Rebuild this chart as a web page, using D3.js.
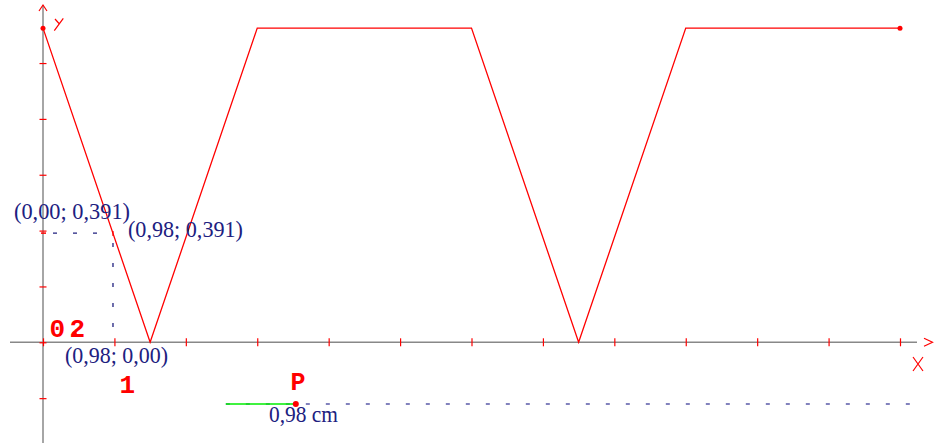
<!DOCTYPE html>
<html>
<head>
<meta charset="utf-8">
<script src="https://cdn.jsdelivr.net/npm/d3@7"></script>
<style>
  body { margin: 0; background: #fff; }
  svg { display: block; }
</style>
</head>
<body>
<svg id="chart" width="938" height="443"></svg>
<script>
// curve data (x in cm units, y value)
const curveX = [0, 1.5, 3, 6, 7.5, 9, 12];
const curveY = [1.125, 0, 1.125, 1.125, 0, 1.125, 1.125];

const xTicks = d3.range(0, 13);
const yTicks = [-0.2, 0, 0.2, 0.4, 0.6, 0.8, 1.0];

// probe point on the curve
const probeX = 0.98;
const probeY = 0.391;
const probeLabels = ["(0,00; 0,391)", "(0,98; 0,391)", "(0,98; 0,00)"];

// slider P
const sliderStart = 2.56;
const sliderLen = 0.98;
const sliderY = -0.221;
const sliderEnd = 12.28;
const sliderLabel = "0,98 cm";

const navy = "#20207f";
const red = "#ff0000";

let svg = d3.select("#chart");

let x = d3.scaleLinear().domain([0, 12]).range([43, 900]);
let y = d3.scaleLinear().domain([0, 1]).range([342.3, 63.05]);

// axis lines
svg.append("line")
   .attr("x1", 10).attr("x2", 917)
   .attr("y1", y(0)).attr("y2", y(0))
   .attr("stroke", "#888").attr("stroke-width", 1.5);
svg.append("line")
   .attr("x1", x(0)).attr("x2", x(0))
   .attr("y1", 5).attr("y2", 443)
   .attr("stroke", "#888").attr("stroke-width", 1.5);

// arrows
svg.append("path")
   .attr("d", `M${x(0) - 4},11 L${x(0)},5 L${x(0) + 4},11`)
   .attr("fill", "none").attr("stroke", red).attr("stroke-width", 1.2);
svg.append("path")
   .attr("d", `M924,${y(0) - 4} L932.5,${y(0)} L924,${y(0) + 4}`)
   .attr("fill", "none").attr("stroke", red).attr("stroke-width", 1.2);

// axis names drawn as strokes
svg.append("path")
   .attr("d", "M55,19 L59,23.5 M63.3,18.3 L54.3,30.7")
   .attr("fill", "none").attr("stroke", red).attr("stroke-width", 1.2);
svg.append("path")
   .attr("d", "M913,357 L923,371 M923,357 L913,371")
   .attr("fill", "none").attr("stroke", red).attr("stroke-width", 1.2);

// ticks
let xAxis = d3.axisBottom(x).tickValues(xTicks).tickSize(8).tickFormat("");
let gx = svg.append("g")
   .attr("transform", `translate(0,${y(0) - 4})`)
   .call(xAxis);
gx.select(".domain").remove();
gx.selectAll(".tick line").attr("stroke", red).attr("stroke-width", 1.2);

let yAxis = d3.axisRight(y).tickValues(yTicks).tickSize(7).tickFormat("");
let gy = svg.append("g")
   .attr("transform", `translate(${x(0) - 3.5},0)`)
   .call(yAxis);
gy.select(".domain").remove();
gy.selectAll(".tick line").attr("stroke", red).attr("stroke-width", 1.2);

// curve
let pts = curveX.map((d, i) => [d, curveY[i]]);
let line = d3.line().x(d => x(d[0])).y(d => y(d[1]));
svg.append("path")
   .datum(pts)
   .attr("d", line)
   .attr("fill", "none")
   .attr("stroke", red)
   .attr("stroke-width", 1.3);

svg.selectAll("circle.end")
   .data([pts[0], pts[pts.length - 1]])
   .enter()
   .append("circle")
   .attr("class", "end")
   .attr("cx", d => x(d[0]))
   .attr("cy", d => y(d[1]))
   .attr("r", 2.5)
   .attr("fill", red);

// probe dashed guides
svg.append("line")
   .attr("x1", x(0)).attr("x2", x(probeX))
   .attr("y1", y(probeY)).attr("y2", y(probeY))
   .attr("stroke", navy).attr("stroke-width", 1.3)
   .attr("stroke-dasharray", "4,16").attr("stroke-dashoffset", -10);
svg.append("line")
   .attr("x1", x(probeX)).attr("x2", x(probeX))
   .attr("y1", y(probeY)).attr("y2", y(0))
   .attr("stroke", navy).attr("stroke-width", 1.3)
   .attr("stroke-dasharray", "4,16").attr("stroke-dashoffset", -10);

// small red markers
svg.append("line")
   .attr("x1", x(0) - 2).attr("x2", x(0) + 3)
   .attr("y1", y(probeY)).attr("y2", y(probeY))
   .attr("stroke", red).attr("stroke-width", 1.5);
svg.append("line")
   .attr("x1", x(probeX)).attr("x2", x(probeX))
   .attr("y1", y(probeY) - 2).attr("y2", y(probeY) + 3)
   .attr("stroke", red).attr("stroke-width", 1.2);

// probe labels
let labelPos = [[14, 219.3], [128, 236.7], [65, 363.3]];
svg.selectAll("text.probe")
   .data(probeLabels)
   .enter()
   .append("text")
   .attr("class", "probe")
   .attr("x", (d, i) => labelPos[i][0])
   .attr("y", (d, i) => labelPos[i][1])
   .attr("font-family", "'Liberation Serif', 'Times New Roman', serif")
   .attr("font-size", 23)
   .attr("textLength", (d, i) => [116, 115, 103][i])
   .attr("lengthAdjust", "spacingAndGlyphs")
   .attr("fill", navy)
   .text(d => d);

// unit labels
let mono = "'Liberation Mono', 'Courier New', monospace";
svg.append("text")
   .attr("x", 49.5).attr("y", 336.5)
   .attr("font-family", mono).attr("font-weight", "bold").attr("font-size", 26)
   .attr("fill", red).text("0");
svg.append("text")
   .attr("x", 69.5).attr("y", 336.5)
   .attr("font-family", mono).attr("font-weight", "bold").attr("font-size", 26)
   .attr("fill", red).text("2");
svg.append("circle")
   .attr("cx", 74.5).attr("cy", 333.5).attr("r", 2.2)
   .attr("fill", red);
svg.append("text")
   .attr("x", 119.5).attr("y", 392.5)
   .attr("font-family", mono).attr("font-weight", "bold").attr("font-size", 26)
   .attr("fill", red).text("1");

// slider
svg.append("line")
   .attr("x1", x(sliderStart)).attr("x2", x(sliderEnd))
   .attr("y1", y(sliderY)).attr("y2", y(sliderY))
   .attr("stroke", "#5a5aa8").attr("stroke-width", 1.4)
   .attr("stroke-dasharray", "4,16");
svg.append("line")
   .attr("x1", x(sliderStart)).attr("x2", x(sliderStart + sliderLen))
   .attr("y1", y(sliderY)).attr("y2", y(sliderY))
   .attr("stroke", "#00ee00").attr("stroke-width", 1.5);
svg.append("circle")
   .attr("cx", x(sliderStart + sliderLen)).attr("cy", y(sliderY))
   .attr("r", 3).attr("fill", red);
svg.append("text")
   .attr("x", 290.5).attr("y", 390)
   .attr("font-family", mono).attr("font-weight", "bold").attr("font-size", 25)
   .attr("fill", red).text("P");
svg.append("text")
   .attr("x", 269).attr("y", 421.7)
   .attr("font-family", "'Liberation Serif', 'Times New Roman', serif")
   .attr("font-size", 23)
   .attr("textLength", 69)
   .attr("lengthAdjust", "spacingAndGlyphs")
   .attr("fill", navy)
   .text(sliderLabel);
</script>
</body>
</html>
